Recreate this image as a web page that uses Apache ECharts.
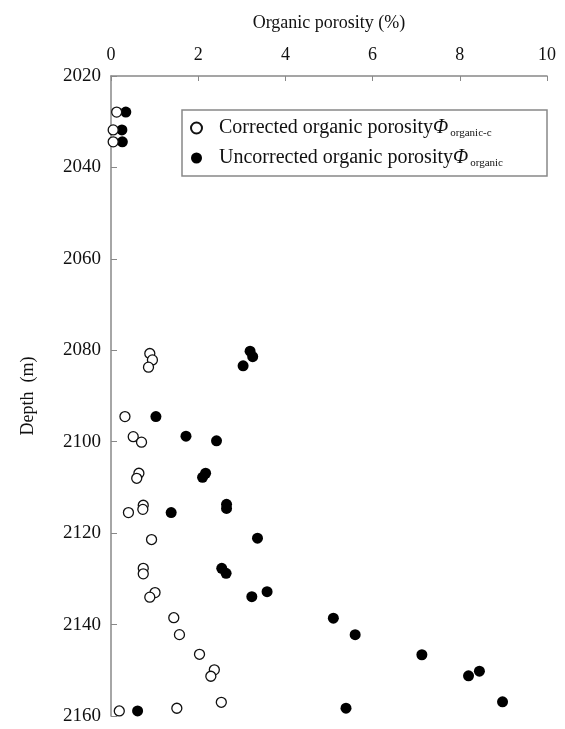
<!DOCTYPE html>
<html><head><meta charset="utf-8">
<script src="https://cdn.jsdelivr.net/npm/echarts@6/dist/echarts.min.js"></script>
<style>html,body{margin:0;padding:0;background:#fff}#c{width:565px;height:729px}</style>
</head><body><div id="c"></div>
<script>
const xTicks = [0, 2, 4, 6, 8, 10];
const yTicks = [2020, 2040, 2060, 2080, 2100, 2120, 2140, 2160];
const correctedPorosity = [0.13,0.05,0.05,0.89,0.95,0.86,0.32,0.51,0.70,0.64,0.59,0.74,0.73,0.40,0.93,0.74,0.74,1.01,0.89,1.44,1.57,2.03,2.37,2.29,2.53,1.51,0.19];
const correctedDepth = [2027.9,2031.8,2034.4,2080.7,2082.1,2083.7,2094.5,2098.9,2100.1,2106.9,2108.0,2113.9,2114.8,2115.5,2121.4,2127.7,2128.9,2133.0,2134.0,2138.5,2142.2,2146.5,2149.9,2151.3,2157.0,2158.3,2158.9];
const uncorrectedPorosity = [0.34,0.25,0.26,3.19,3.25,3.03,1.03,1.72,2.42,2.17,2.10,2.65,2.65,1.38,3.36,2.54,2.64,3.58,3.23,5.10,5.60,7.13,8.45,8.20,8.98,5.39,0.61];
const uncorrectedDepth = [2027.9,2031.8,2034.4,2080.2,2081.4,2083.4,2094.5,2098.8,2099.8,2106.9,2107.8,2113.7,2114.6,2115.5,2121.1,2127.7,2128.8,2132.8,2133.9,2138.6,2142.2,2146.6,2150.2,2151.2,2156.9,2158.3,2158.9];
const seriesNames = ['Corrected organic porosity', 'Uncorrected organic porosity'];
const subs = ['organic-c', 'organic'];

const pair = (xs, ys) => xs.map((v, i) => [v, ys[i]]);
const font = '"Liberation Serif", "Times New Roman", serif';
const chart = echarts.init(document.getElementById('c'));
chart.setOption({
  backgroundColor: '#fff',
  animation: false,
  grid: { left: 111, top: 76, width: 436, height: 640 },
  legend: {
    orient: 'vertical', left: 182, top: 110,
    borderColor: '#888', borderWidth: 1.5,
    padding: [7, 44, 7, 8], itemGap: 8,
    itemWidth: 11, itemHeight: 11,
    data: seriesNames,
    formatter: function (name) {
      const i = seriesNames.indexOf(name);
      return '{sp|}' + name + '{phi|Φ}{sub|' + subs[i] + '}';
    },
    textStyle: {
      fontFamily: font, fontSize: 20, color: '#111', lineHeight: 22,
      rich: {
        sp: { width: 12 },
        phi: { fontFamily: font, fontSize: 20, fontStyle: 'italic', color: '#111' },
        sub: { fontFamily: font, fontSize: 11, color: '#111', padding: [11, 0, 0, 2] }
      }
    }
  },
  xAxis: {
    type: 'value', position: 'top', min: 0, max: 10, interval: 2,
    name: 'Organic porosity (%)', nameLocation: 'middle', nameGap: 44,
    nameTextStyle: { fontFamily: font, fontSize: 18, color: '#111' },
    axisLine: { show: true, lineStyle: { color: '#888', width: 1.5 } },
    axisTick: { show: true, inside: true, length: 5, lineStyle: { color: '#888' } },
    axisLabel: { fontFamily: font, fontSize: 18, color: '#111', margin: 12,
      formatter: v => xTicks.includes(v) ? String(v) : '' },
    splitLine: { show: false }
  },
  yAxis: {
    type: 'value', inverse: true, min: 2020, max: 2160, interval: 20,
    name: 'Depth  (m)', nameLocation: 'middle', nameGap: 74, nameRotate: 90,
    nameTextStyle: { fontFamily: font, fontSize: 18, color: '#111' },
    axisLine: { show: true, lineStyle: { color: '#888', width: 1.5 } },
    axisTick: { show: true, inside: true, length: 6, lineStyle: { color: '#888' } },
    axisLabel: { fontFamily: font, fontSize: 19, color: '#111', margin: 10,
      formatter: v => yTicks.includes(v) ? String(v) : '' },
    splitLine: { show: false }
  },
  series: [
    {
      name: seriesNames[0], type: 'scatter', symbol: 'circle', symbolSize: 10, z: 3,
      itemStyle: { color: '#fff', borderColor: '#111', borderWidth: 1.3, opacity: 1 },
      data: pair(correctedPorosity, correctedDepth)
    },
    {
      name: seriesNames[1], type: 'scatter', symbol: 'circle', symbolSize: 11, z: 2,
      itemStyle: { color: '#000', borderColor: '#000', borderWidth: 0, opacity: 1 },
      data: pair(uncorrectedPorosity, uncorrectedDepth)
    }
  ]
});
</script></body></html>
